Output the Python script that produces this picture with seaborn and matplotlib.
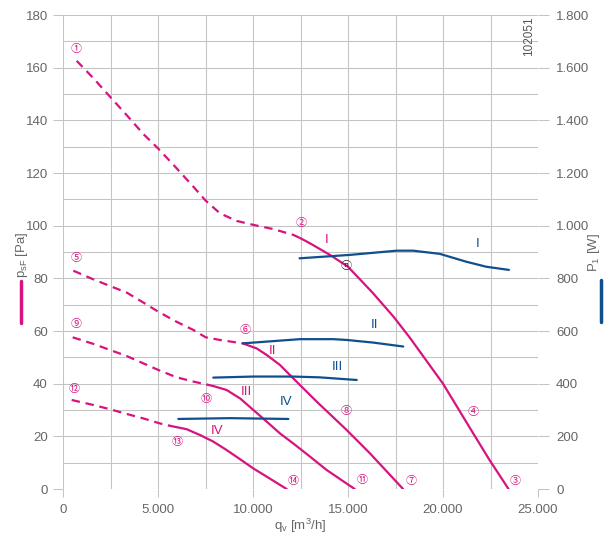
import numpy as np
import seaborn as sns
import matplotlib.pyplot as plt
from matplotlib.lines import Line2D
from matplotlib.ticker import MultipleLocator, FuncFormatter

MAGENTA = '#d6137f'
BLUE = '#0f4f8e'
GRID = '#c4c4c4'
TXT = '#666666'

# pressure curves p_sF [Pa] vs q_v [m3/h]; dashed part + solid part
q_p1_dash = [720, 1600, 2470, 3350, 4230, 5020, 5980, 6860, 7510, 8260, 9140, 10020, 11070, 12120, 12480]
p_p1_dash = [162.6, 156.0, 149.0, 142.0, 134.8, 129.2, 121.8, 114.8, 109.5, 104.7, 101.8, 100.3, 98.7, 96.5, 95.3]
q_p1 = [12480, 13000, 14050, 15000, 16300, 17400, 18250, 20000, 21600, 22450, 23450]
p_p1 = [95.3, 93.3, 88.9, 84.4, 74.5, 65.4, 57.5, 40, 21, 11, 0]

q_p2_dash = [545, 1600, 2470, 3350, 4230, 5020, 5980, 6860, 7510, 8260, 9456]
p_p2_dash = [82.9, 79.6, 77.1, 74.6, 70.8, 67.3, 63.5, 60.4, 57.6, 56.6, 55.3]
q_p2 = [9456, 10190, 10720, 11420, 12120, 13350, 14930, 16160, 17900]
p_p2 = [55.3, 53.4, 50.9, 47.1, 42.0, 33.2, 22.4, 13.5, 0]

q_p3_dash = [509, 1600, 2470, 3350, 4230, 5020, 5980, 6860, 7600]
p_p3_dash = [57.6, 55.1, 52.8, 50.5, 47.7, 45.2, 42.4, 40.8, 39.6]
q_p3 = [7600, 7910, 8610, 9320, 10020, 10720, 11420, 12120, 13000, 13880, 15350]
p_p3 = [39.6, 39.1, 37.6, 34.4, 30.0, 25.6, 21.1, 17.3, 12.3, 7.2, 0]

q_p4_dash = [456, 1600, 2470, 3350, 4230, 5100, 5630]
p_p4_dash = [33.8, 31.9, 30.3, 28.5, 26.8, 24.9, 24.0]
q_p4 = [5630, 6510, 7210, 7910, 8610, 9320, 10020, 10720, 11770]
p_p4 = [24.0, 22.7, 20.5, 18.0, 14.8, 11.3, 7.8, 4.7, 0]

# power curves P_1 [W]
q_w1 = [12450, 15100, 17560, 18430, 19830, 21230, 22280, 23470]
w_1 = [876, 889, 905, 905, 893, 863, 844, 832]
q_w2 = [9456, 12470, 14220, 14930, 16330, 17910]
w_2 = [553, 569, 569, 566, 556, 541]
q_w3 = [7910, 10000, 12120, 13500, 15460]
w_3 = [423, 427, 427, 424, 414]
q_w4 = [6070, 8790, 11860]
w_4 = [266, 269, 266]

# circled point labels (text, q, p)
pt_labels = ['\u2460', '\u2461', '\u2462', '\u2463', '\u2464', '\u2465', '\u2466',
             '\u2467', '\u2468', '\u2469', '\u246a', '\u246b', '\u246c', '\u246d']
pt_q = [700, 12530, 23790, 21600, 700, 9580, 18300, 14930, 685, 7560, 15750, 580, 6030, 12120]
pt_p = [167, 101, 3.0, 29.4, 87.6, 60.4, 3.0, 29.6, 62.5, 34.3, 3.4, 37.9, 18, 3.2]

roman = ['I', 'II', 'III', 'IV']
roman_p_q = [13880, 11040, 9630, 8090]
roman_p_p = [94.6, 52.5, 36.7, 22.0]
roman_w_q = [21820, 16370, 14440, 11720]
roman_w_p = [92.9, 62.3, 46.2, 32.9]

sns.set_style('white')
plt.rcParams['font.family'] = ['Liberation Sans', 'DejaVu Sans']

fig = plt.figure(figsize=(6.15, 5.41), dpi=100)
ax = fig.add_axes([63 / 615, 1 - 489 / 541, 475 / 615, 474 / 541])
ax2 = ax.twinx()

dash = (0, (3.8, 2.6))
for qd, pd_, qs, ps in [(q_p1_dash, p_p1_dash, q_p1, p_p1),
                        (q_p2_dash, p_p2_dash, q_p2, p_p2),
                        (q_p3_dash, p_p3_dash, q_p3, p_p3),
                        (q_p4_dash, p_p4_dash, q_p4, p_p4)]:
    sns.lineplot(x=qd, y=pd_, ax=ax, color=MAGENTA, lw=1.6, linestyle=dash)
    sns.lineplot(x=qs, y=ps, ax=ax, color=MAGENTA, lw=1.6)

for qw, w in [(q_w1, w_1), (q_w2, w_2), (q_w3, w_3), (q_w4, w_4)]:
    sns.lineplot(x=qw, y=w, ax=ax2, color=BLUE, lw=1.6)

ax.set_xlim(0, 25000)
ax.set_ylim(0, 180)
ax2.set_ylim(0, 1800)

ax.xaxis.set_major_locator(MultipleLocator(5000))
ax.xaxis.set_minor_locator(MultipleLocator(2500))
ax.yaxis.set_major_locator(MultipleLocator(20))
ax.yaxis.set_minor_locator(MultipleLocator(10))
ax2.yaxis.set_major_locator(MultipleLocator(200))

fmt = FuncFormatter(lambda v, p: f'{v:,.0f}'.replace(',', '.'))
ax.xaxis.set_major_formatter(fmt)
ax2.yaxis.set_major_formatter(fmt)

ax.grid(True, which='both', color=GRID, lw=0.75)
ax.set_axisbelow(True)
ax2.grid(False)
for a in (ax, ax2):
    for s in a.spines.values():
        s.set_visible(False)

ax.tick_params(axis='y', which='major', length=7, width=0.75, color=GRID, pad=4,
               labelsize=9.5, labelcolor=TXT, left=True)
ax.tick_params(axis='x', which='major', length=6, width=0.75, color=GRID, pad=5,
               labelsize=9.5, labelcolor=TXT, bottom=True)
ax.tick_params(which='minor', length=0)
ax2.tick_params(axis='y', which='major', length=8, width=0.75, color=GRID, pad=5,
                labelsize=9.5, labelcolor=TXT, right=True)
ax.set_xlabel('')
ax.set_ylabel('')
ax2.set_ylabel('')

for t, q, p in zip(pt_labels, pt_q, pt_p):
    ax.text(q, p, t, color=MAGENTA, fontsize=8, ha='center', va='center',
            family=['Noto Sans CJK JP', 'DejaVu Sans'])
ax.text(14900, 84.7, '\u24dd', color='#222222', fontsize=8, ha='center', va='center',
        family=['Noto Sans CJK JP', 'DejaVu Sans'])

for t, q, p in zip(roman, roman_p_q, roman_p_p):
    ax.text(q, p, t, color=MAGENTA, fontsize=9.5, ha='center', va='center')
for t, q, p in zip(roman, roman_w_q, roman_w_p):
    ax.text(q, p, t, color=BLUE, fontsize=9.5, ha='center', va='center')

ax.text(24540, 171.8, '102051', rotation=90, color='#555555', fontsize=8.5,
        ha='center', va='center')

fig.text(22 / 615, 1 - 255 / 541, 'p$_{\\mathregular{sF}}$ [Pa]', rotation=90,
         color=TXT, fontsize=9.5, ha='center', va='center')
fig.add_artist(Line2D([21 / 615, 21 / 615], [1 - 281 / 541, 1 - 323 / 541],
                      color=MAGENTA, lw=2.5))
fig.text(594 / 615, 1 - 252 / 541, 'P$_{\\mathregular{1}}$ [W]', rotation=90,
         color=TXT, fontsize=9.5, ha='center', va='center')
fig.add_artist(Line2D([601 / 615, 601 / 615], [1 - 280 / 541, 1 - 322 / 541],
                      color=BLUE, lw=2.5))
fig.text(300 / 615, 1 - 526 / 541, 'q$_{\\mathregular{v}}$ [m$^{\\mathregular{3}}$/h]',
         color=TXT, fontsize=9.5, ha='center', va='center')

fig.savefig('out.png', dpi=100)
